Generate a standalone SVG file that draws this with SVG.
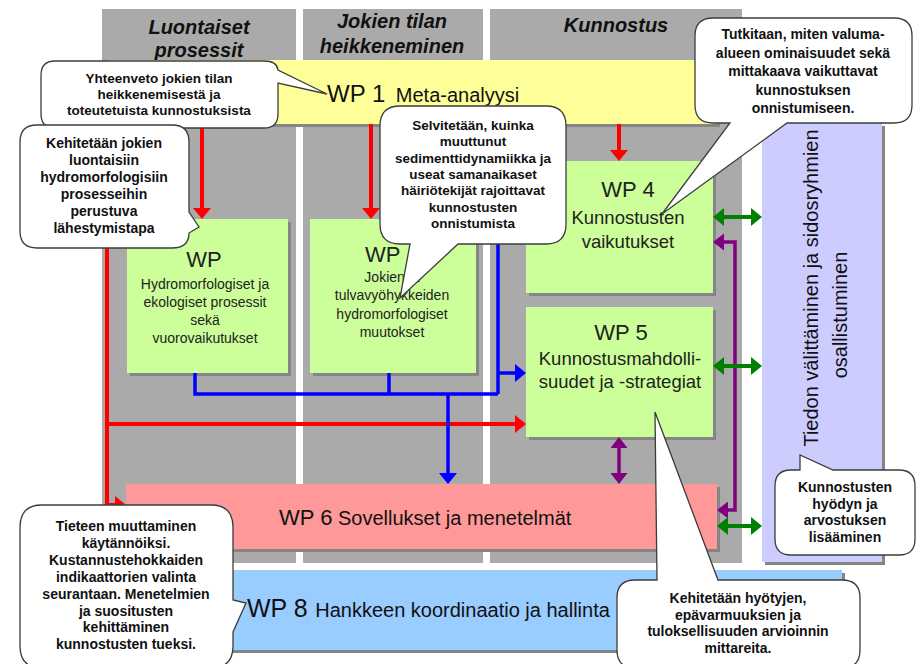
<svg xmlns="http://www.w3.org/2000/svg" width="919" height="664" viewBox="0 0 919 664">
<defs>
<style>
text{font-family:"Liberation Sans",Arial,sans-serif;}
.col{fill:#aaaaaa;}
.hdr{font-size:20px;font-weight:bold;font-style:italic;fill:#111;text-anchor:middle;}
.sh{fill:#858585;}
.wp{fill:#222;text-anchor:middle;}
.t14{font-size:14px;}
.t18{font-size:18.5px;}
.t22{font-size:22px;}
.co{fill:#fff;stroke:#3c3c3c;stroke-width:1.3;}
.ct{font-weight:bold;fill:#111;text-anchor:middle;font-size:14px;}
.red{stroke:#ff0000;stroke-width:4;fill:none;}
.blue{stroke:#0000ff;stroke-width:3.5;fill:none;}
.grn{stroke:#008000;stroke-width:4;fill:none;}
.pur{stroke:#800080;stroke-width:3.5;fill:none;}
</style>
<marker id="mr" viewBox="0 0 11 18" refX="8" refY="9" markerWidth="11" markerHeight="18" markerUnits="userSpaceOnUse" orient="auto-start-reverse"><path d="M0,0L11,9L0,18z" fill="#ff0000"/></marker>
<marker id="mb" viewBox="0 0 11 18" refX="8" refY="9" markerWidth="11" markerHeight="18" markerUnits="userSpaceOnUse" orient="auto-start-reverse"><path d="M0,0L11,9L0,18z" fill="#0000ff"/></marker>
<marker id="mg" viewBox="0 0 11 18" refX="8" refY="9" markerWidth="11" markerHeight="18" markerUnits="userSpaceOnUse" orient="auto-start-reverse"><path d="M0,0L11,9L0,18z" fill="#008000"/></marker>
<marker id="mp" viewBox="0 0 11 17" refX="8" refY="8.5" markerWidth="11" markerHeight="17" markerUnits="userSpaceOnUse" orient="auto-start-reverse"><path d="M0,0L11,8.5L0,17z" fill="#800080"/></marker>
</defs>
<rect width="919" height="664" fill="#fff"/>

<g id="columns">
<rect class="col" x="102" y="9" width="194" height="554"/>
<rect class="col" x="303" y="9" width="180" height="554"/>
<rect class="col" x="490" y="9" width="252" height="554"/>
<text class="hdr" x="199" y="34">Luontaiset</text>
<text class="hdr" x="199" y="57">prosessit</text>
<text class="hdr" x="392" y="28">Jokien tilan</text>
<text class="hdr" x="392" y="53">heikkeneminen</text>
<text class="hdr" x="616" y="32">Kunnostus</text>
</g>

<g id="panel-tiedon">
<rect class="sh" x="765" y="126" width="120" height="439"/>
<rect x="762" y="123" width="120" height="439" fill="#ccccff"/>
<text transform="translate(818,288) rotate(-90)" text-anchor="middle" font-size="20" fill="#111">Tiedon välittäminen ja sidosryhmien</text>
<text transform="translate(847,315) rotate(-90)" text-anchor="middle" font-size="20" fill="#111">osallistuminen</text>
</g>

<g id="wp1">
<rect class="sh" x="111" y="63" width="609" height="64"/>
<rect x="108" y="60" width="609" height="64" fill="#ffff99"/>
<text x="327" y="102" fill="#111"><tspan font-size="24">WP 1</tspan><tspan font-size="20" dx="5"> Meta-analyysi</tspan></text>
</g>

<g id="wp2">
<rect class="sh" x="130" y="222" width="161" height="154"/>
<rect x="127" y="219" width="161" height="154" fill="#ccff99"/>
<text class="wp t22" x="204" y="267">WP</text>
<text class="wp t14" x="205" y="288.5">Hydromorfologiset ja</text>
<text class="wp t14" x="205" y="306.7">ekologiset prosessit</text>
<text class="wp t14" x="205" y="324.9">sekä</text>
<text class="wp t14" x="205" y="343.1">vuorovaikutukset</text>
</g>

<g id="wp3">
<rect class="sh" x="313" y="222" width="166" height="154"/>
<rect x="310" y="219" width="166" height="154" fill="#ccff99"/>
<text class="t22" x="365" y="262" fill="#222">WP</text>
<text class="wp t14" x="392" y="282">Jokien ja</text>
<text class="wp t14" x="392" y="300.3">tulvavyöhykkeiden</text>
<text class="wp t14" x="392" y="318.6">hydromorfologiset</text>
<text class="wp t14" x="392" y="336.9">muutokset</text>
</g>

<g id="wp4">
<rect class="sh" x="529" y="164" width="187" height="132"/>
<rect x="526" y="161" width="187" height="132" fill="#ccff99"/>
<text class="wp t22" x="628" y="197">WP 4</text>
<text class="wp t18" x="628" y="224">Kunnostusten</text>
<text class="wp t18" x="628" y="248">vaikutukset</text>
</g>

<g id="wp5">
<rect class="sh" x="529" y="310" width="187" height="130"/>
<rect x="526" y="307" width="187" height="130" fill="#ccff99"/>
<text class="wp t22" x="621" y="340">WP 5</text>
<text class="wp t18" x="620" y="365">Kunnostusmahdolli-</text>
<text class="wp t18" x="620" y="388">suudet ja -strategiat</text>
</g>

<g id="wp6">
<rect class="sh" x="129" y="487" width="591" height="65"/>
<rect x="126" y="484" width="591" height="65" fill="#ff9999"/>
<text x="279" y="525" fill="#111"><tspan font-size="22">WP 6</tspan><tspan font-size="20"> Sovellukset ja menetelmät</tspan></text>
</g>

<g id="wp8">
<rect class="sh" x="129" y="573" width="716" height="80"/>
<rect x="126" y="570" width="716" height="80" fill="#99ccff"/>
<text x="247" y="617" fill="#111"><tspan font-size="25">WP 8</tspan><tspan font-size="20" dx="2"> Hankkeen koordinaatio ja hallinta</tspan></text>
</g>

<g id="connectors">
<path class="red" d="M202,124V216" marker-end="url(#mr)"/>
<path class="red" d="M371,124V216" marker-end="url(#mr)"/>
<path class="red" d="M619,124V158" marker-end="url(#mr)"/>
<path class="red" d="M107,124V505H123" marker-end="url(#mr)"/>
<path class="red" d="M107,424H523" marker-end="url(#mr)"/>
<path class="blue" d="M195,373V394H498"/>
<path class="blue" d="M389,373V394"/>
<path class="blue" d="M498,230V394"/>
<path class="blue" d="M498,373H523" marker-end="url(#mb)"/>
<path class="blue" d="M448,394V481" marker-end="url(#mb)"/>
<path class="pur" d="M716,242H735V510H720" marker-start="url(#mp)" marker-end="url(#mp)"/>
<path class="pur" d="M619,440V481" marker-start="url(#mp)" marker-end="url(#mp)"/>
<path class="grn" d="M716,217H759" marker-start="url(#mg)" marker-end="url(#mg)"/>
<path class="grn" d="M716,366H759" marker-start="url(#mg)" marker-end="url(#mg)"/>
<path class="grn" d="M720,526H759" marker-start="url(#mg)" marker-end="url(#mg)"/>
</g>

<g id="callout-yhteenveto">
<path class="co" d="M55,61H264Q277,61 278,70L327,94L278,83V114Q278,128 264,128H55Q41,128 41,114V75Q41,61 55,61Z"/>
<text class="ct" font-size="13.5" style="font-size:13.5px" x="159" y="83">Yhteenveto jokien tilan</text>
<text class="ct" style="font-size:13.5px" x="159" y="99">heikkenemisestä ja</text>
<text class="ct" style="font-size:13.5px" x="159" y="115">toteutetuista kunnostuksista</text>
</g>

<g id="callout-kehitetaan-jokien">
<path class="co" d="M37,125H172Q189,125 189,142V212L199,227L189,233Q189,248 172,248H37Q20,248 20,231V142Q20,125 37,125Z"/>
<text class="ct" x="104" y="148">Kehitetään jokien</text>
<text class="ct" x="104" y="165">luontaisiin</text>
<text class="ct" x="104" y="182">hydromorfologisiin</text>
<text class="ct" x="104" y="199">prosesseihin</text>
<text class="ct" x="104" y="216">perustuva</text>
<text class="ct" x="104" y="233">lähestymistapa</text>
</g>

<g id="callout-selvitetaan">
<path class="co" d="M400,106H546Q566,106 566,126V224Q566,244 546,244H458L400,298L410,244H400Q380,244 380,224V126Q380,106 400,106Z"/>
<text class="ct" style="font-size:13.5px" x="473" y="130">Selvitetään, kuinka</text>
<text class="ct" style="font-size:13.5px" x="473" y="146.3">muuttunut</text>
<text class="ct" style="font-size:13.5px" x="473" y="162.6">sedimenttidynamiikka ja</text>
<text class="ct" style="font-size:13.5px" x="473" y="178.9">useat samanaikaset</text>
<text class="ct" style="font-size:13.5px" x="473" y="195.2">häiriötekijät rajoittavat</text>
<text class="ct" style="font-size:13.5px" x="473" y="211.5">kunnostusten</text>
<text class="ct" style="font-size:13.5px" x="473" y="227.8">onnistumista</text>
</g>

<g id="callout-tutkitaan">
<path class="co" d="M713,18H894Q912,18 912,36V105Q912,123 894,123H787L662,214L730,123H713Q695,123 695,105V36Q695,18 713,18Z"/>
<text class="ct" x="803" y="39">Tutkitaan, miten valuma-</text>
<text class="ct" x="803" y="57.5">alueen ominaisuudet sekä</text>
<text class="ct" x="803" y="76">mittakaava vaikuttavat</text>
<text class="ct" x="803" y="94.5">kunnostuksen</text>
<text class="ct" x="803" y="113">onnistumiseen.</text>
</g>

<g id="callout-kunnostusten-hyodyn">
<path class="co" d="M791,470H800L800,455L833,470H899Q915,470 915,486V539Q915,555 899,555H791Q775,555 775,539V486Q775,470 791,470Z"/>
<text class="ct" x="845" y="492">Kunnostusten</text>
<text class="ct" x="845" y="508.7">hyödyn ja</text>
<text class="ct" x="845" y="525.4">arvostuksen</text>
<text class="ct" x="845" y="542">lisääminen</text>
</g>

<g id="callout-tieteen">
<path class="co" d="M42,505H211Q233,505 233,527V600L246,603L233,632V646Q233,668 211,668H42Q20,668 20,646V527Q20,505 42,505Z"/>
<text class="ct" x="126" y="531">Tieteen muuttaminen</text>
<text class="ct" x="126" y="547.9">käytännöiksi.</text>
<text class="ct" x="126" y="564.8">Kustannustehokkaiden</text>
<text class="ct" x="126" y="581.7">indikaattorien valinta</text>
<text class="ct" x="126" y="598.6">seurantaan. Menetelmien</text>
<text class="ct" x="126" y="615.5">ja suositusten</text>
<text class="ct" x="126" y="632.4">kehittäminen</text>
<text class="ct" x="126" y="649.3">kunnostusten tueksi.</text>
</g>

<g id="callout-hyotyjen">
<path class="co" d="M635,580H657L655,412L718,580H842Q860,580 860,598V650Q860,668 842,668H635Q617,668 617,650V598Q617,580 635,580Z"/>
<text class="ct" x="738" y="603">Kehitetään hyötyjen,</text>
<text class="ct" x="738" y="619.7">epävarmuuksien ja</text>
<text class="ct" x="738" y="636.4">tuloksellisuuden arvioinnin</text>
<text class="ct" x="738" y="653">mittareita.</text>
</g>
</svg>
